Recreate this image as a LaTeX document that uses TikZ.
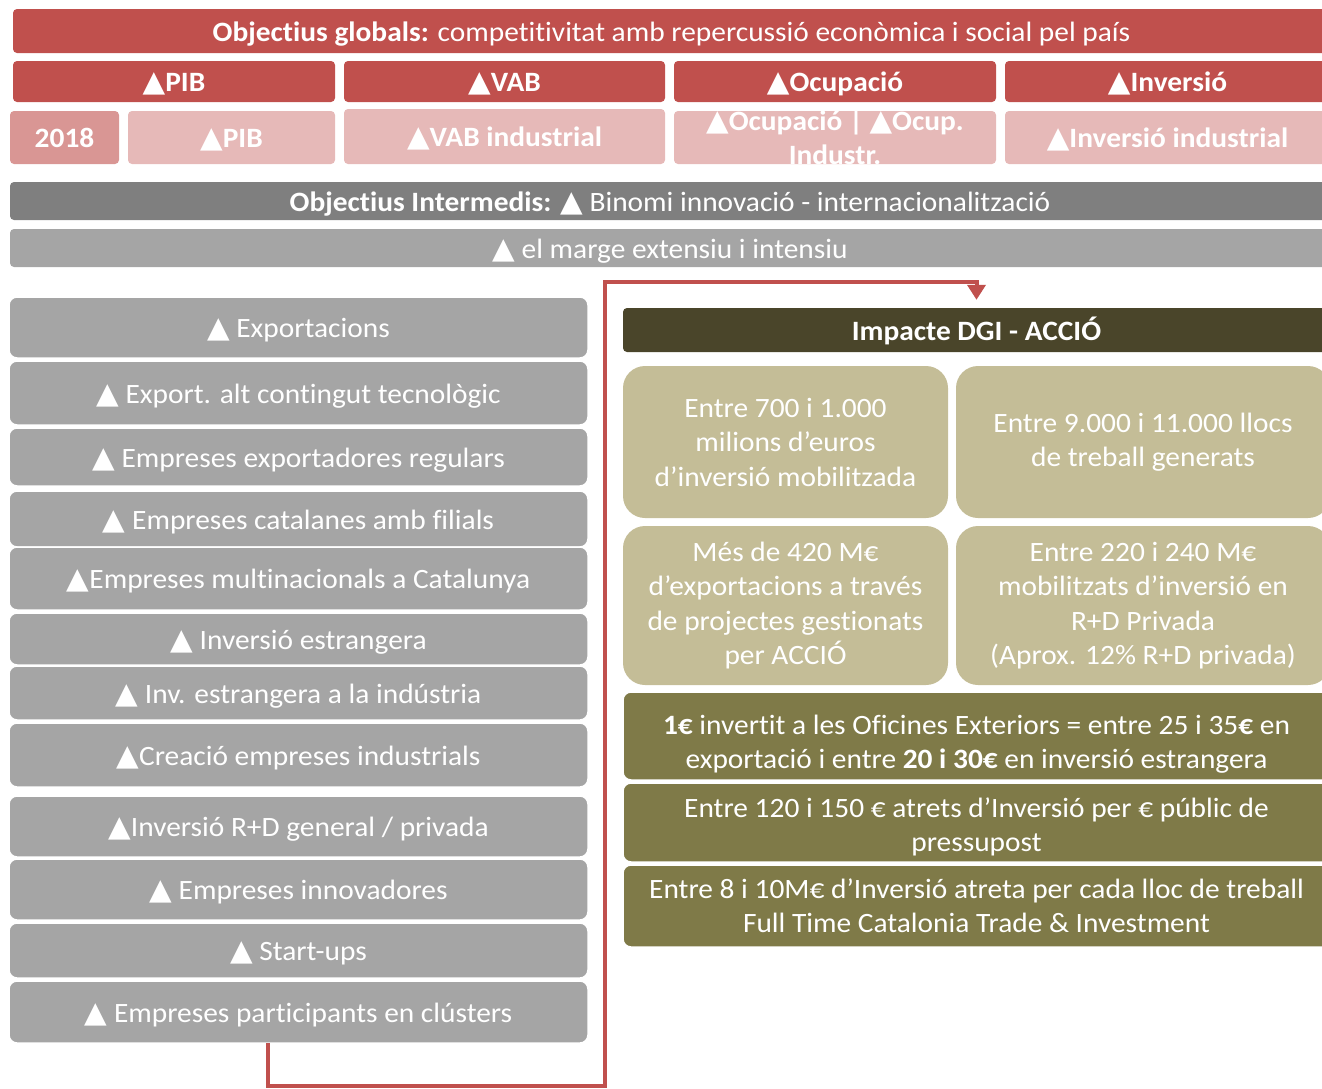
\documentclass[tikz,border=0pt]{standalone}
\usepackage{fontspec}
\setmainfont{Carlito}[FakeStretch=1.05, Ligatures=NoCommon]
\newfontfamily\symfont{DejaVu Sans}[Scale=1.05]
\usepackage{tikz}
\usetikzlibrary{arrows.meta,positioning,calc}
\definecolor{redbar}{HTML}{C0504D}
\definecolor{pinkdark}{HTML}{D99694}
\definecolor{pinklight}{HTML}{E6B9B8}
\definecolor{greydark}{HTML}{7F7F7F}
\definecolor{greylight}{HTML}{A5A5A5}
\definecolor{olivedark}{HTML}{4A452A}
\definecolor{acciotan}{HTML}{C4BD97}
\definecolor{olivemid}{HTML}{7F7A48}
\newcommand{\incr}{{\symfont ▲}}
\tikzstyle{bar}=[rectangle, rounded corners=4pt, inner sep=0pt, text=white, align=center, text height=20pt, text depth=0pt, font=\fontsize{28}{34}\selectfont]
\tikzstyle{boldbar}=[bar, font=\bfseries\fontsize{28}{34}\selectfont]
\tikzstyle{indic}=[rectangle, rounded corners=8pt, draw=white, line width=1.5pt, fill=greylight, inner sep=0pt, minimum width=579pt, text=white, text height=20pt, text depth=0pt, font=\fontsize{28}{34}\selectfont]
\tikzstyle{impact}=[rectangle, rounded corners=22pt, fill=acciotan, inner sep=0pt, text=white, align=center, font=\fontsize{28}{34.5}\selectfont]
\tikzstyle{ratio}=[rectangle, rounded corners=8pt, draw=white, line width=1.5pt, fill=olivemid, inner sep=0pt, minimum width=707pt, text=white, align=center, font=\fontsize{28}{34}\selectfont]
\tikzstyle{conn}=[draw=redbar, line width=4pt, -{Triangle[length=15pt,width=18pt]}]

\begin{document}
\begin{tikzpicture}[x=1pt,y=-1pt]
	\useasboundingbox (0,0) rectangle (1322,1088);
	% objectius globals
	\node[bar, fill=redbar, minimum width=1317pt, minimum height=44pt] (global) at (671.5,31) {\textbf{Objectius globals:} competitivitat amb repercussió econòmica i social pel país};
	\node[boldbar, fill=redbar, minimum width=322pt, minimum height=41pt] (pib) at (174,81.5) {\incr PIB};
	\node[boldbar, fill=redbar, minimum width=321pt, minimum height=41pt] (vab) at (504.5,81.5) {\incr VAB};
	\node[boldbar, fill=redbar, minimum width=322pt, minimum height=41pt] (ocup) at (835,81.5) {\incr Ocupació};
	\node[boldbar, fill=redbar, minimum width=325pt, minimum height=41pt] (inv) at (1167.5,81.5) {\incr Inversió};
	\node[boldbar, fill=pinkdark, minimum width=109pt, minimum height=53pt] (year) at (64.5,137.5) {2018};
	\node[boldbar, fill=pinklight, minimum width=207pt, minimum height=53pt] (pibyear) at (231.5,137.5) {\incr PIB};
	\node[boldbar, fill=pinklight, minimum width=321pt, minimum height=55pt] (vabind) at (504.5,136.5) {\incr VAB industrial};
	\node[boldbar, fill=pinklight, minimum width=322pt, minimum height=53pt, text height=53pt, text depth=0pt] (ocupind) at (835,137.5) {\incr Ocupació | \incr Ocup.\\Industr.};
	\node[boldbar, fill=pinklight, minimum width=325pt, minimum height=53pt] (invind) at (1167.5,137.5) {\incr Inversió industrial};
	% objectius intermedis
	\node[bar, fill=greydark, minimum width=1320pt, minimum height=38pt] (intermedi) at (670,201) {\textbf{Objectius Intermedis:} \incr{} Binomi innovació - internacionalització};
	\node[bar, fill=greylight, minimum width=1320pt, minimum height=38pt] (marge) at (670,248) {\incr{} el marge extensiu i intensiu};
	% indicadors
	\node[indic, minimum height=61pt] (export) at (298.5,327.5) {\incr{} Exportacions};
	\node[indic, minimum height=64pt] (tecno) at (298.5,393) {\incr{} Export. alt contingut tecnològic};
	\node[indic, minimum height=58pt] (regular) at (298.5,457) {\incr{} Empreses exportadores regulars};
	\node[indic, minimum height=56pt] (filials) at (298.5,519) {\incr{} Empreses catalanes amb filials};
	\node[indic, minimum height=63pt] (multi) at (298.5,578.5) {\incr Empreses multinacionals a Catalunya};
	\node[indic, minimum height=52pt] (estrang) at (298.5,639) {\incr{} Inversió estrangera};
	\node[indic, minimum height=54pt] (estrind) at (298.5,693) {\incr{} Inv. estrangera a la indústria};
	\node[indic, minimum height=64pt] (creacio) at (298.5,755) {\incr Creació empreses industrials};
	\node[indic, minimum height=61pt] (recerca) at (298.5,826.5) {\incr Inversió R+D general / privada};
	\node[indic, minimum height=61pt] (innova) at (298.5,889.5) {\incr{} Empreses innovadores};
	\node[indic, minimum height=55pt] (startup) at (298.5,950.5) {\incr{} Start-ups};
	\node[indic, minimum height=62pt] (cluster) at (298.5,1012) {\incr{} Empreses participants en clústers};
	% impacte
	\node[boldbar, fill=olivedark, minimum width=707pt, minimum height=44pt] (impacte) at (976.5,330) {Impacte DGI - ACCIÓ};
	\node[impact, minimum width=325pt, minimum height=152pt] (mobil) at (785.5,442) {Entre 700 i 1.000\\milions d’euros\\d’inversió mobilitzada};
	\node[impact, minimum width=374pt, minimum height=152pt] (llocs) at (1143,442) {Entre 9.000 i 11.000 llocs\\de treball generats};
	\node[impact, minimum width=325pt, minimum height=159pt] (exports) at (785.5,605.5) {Més de 420 M€\\d’exportacions a través\\de projectes gestionats\\per ACCIÓ};
	\node[impact, minimum width=374pt, minimum height=159pt] (rdpriv) at (1143,605.5) {Entre 220 i 240 M€\\mobilitzats d’inversió en\\R+D Privada\\(Aprox. 12\% R+D privada)};
	\node[ratio, minimum height=88pt, text height=64pt, text depth=0pt] (oficines) at (976.5,736) {\textbf{1€} invertit a les Oficines Exteriors = entre 25 i 35\textbf{€} en\\exportació i entre \textbf{20 i 30€} en inversió estrangera};
	\node[ratio, minimum height=79pt, text height=57pt, text depth=0pt] (pressu) at (976.5,822.5) {Entre 120 i 150 € atrets d’Inversió per € públic de\\pressupost};
	\node[ratio, minimum height=82pt] (treball) at (976.5,906) {Entre 8 i 10M€ d’Inversió atreta per cada lloc de treball\\Full Time Catalonia Trade \& Investment};
	% connector
	\coordinate (tail) at (268,1043);
	\coordinate (low) at (605,1086);
	\coordinate (high) at (605,282);
	\draw[conn] (tail) |- (low) -- (high) -| ([yshift=8pt]impacte.north);
\end{tikzpicture}
\end{document}
